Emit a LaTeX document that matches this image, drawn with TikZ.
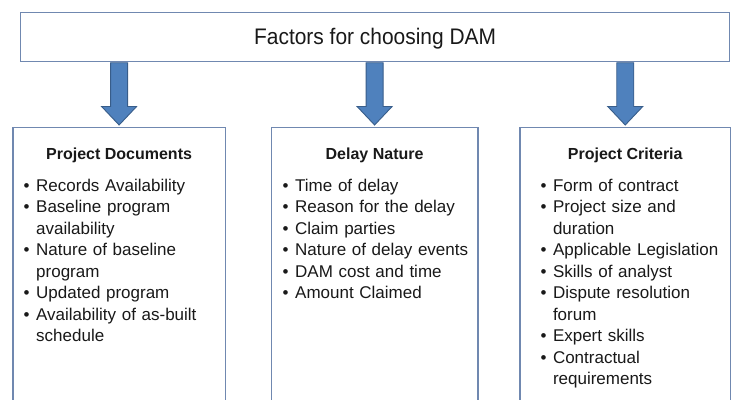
\documentclass[tikz,border=0pt]{standalone}
\usepackage{fontspec}
\setmainfont{Liberation Sans}
\newfontfamily\titlefont[FakeStretch=0.93]{Liberation Sans}
\usetikzlibrary{calc}
\definecolor{boxline}{RGB}{112,136,176}
\definecolor{arrfill}{RGB}{79,129,189}
\definecolor{arrline}{RGB}{56,93,138}
\definecolor{txt}{RGB}{25,25,25}
\newcommand{\itm}{\makebox[12.5pt][l]{\textbullet}}
\newcommand{\cnt}{\hspace*{12.5pt}}
\newcommand{\fatarrow}[2]{%
  \path[fatarr] let \p1=(#1.south -| #2.north), \p2=(#2.north) in
    (\x1-8.5pt,\y1-0.5pt) -- (\x1+8.5pt,\y1-0.5pt) -- (\x1+8.5pt,\y2+20pt)
    -- (\x1+17.5pt,\y2+20pt) -- (\x1,\y2+1.5pt) -- (\x1-17.5pt,\y2+20pt)
    -- (\x1-8.5pt,\y2+20pt) -- cycle;}
\tikzset{
  boxnode/.style={draw=boxline, line width=1.2pt, fill=white, rectangle, inner sep=0pt},
  fatarr/.style={fill=arrfill, draw=arrline, line width=0.9pt, line join=miter},
  head/.style={font=\fontsize{16}{19}\selectfont\bfseries, text=txt, inner sep=0pt, anchor=base},
  items/.style={font=\fontsize{17}{21.5}\selectfont, text=txt, inner sep=0pt, anchor=base west, text width=200pt, align=left},
}
\begin{document}
\begin{tikzpicture}[x=1pt,y=-1pt]
\useasboundingbox (0,0) rectangle (735,399);
\fill[white] (0,0) rectangle (735,399);
\clip (0,0) rectangle (735,399);
% top box
\node[boxnode, anchor=north west, minimum width=709pt, minimum height=49pt] (top) at (20,12) {};
\node[font=\titlefont\fontsize{22.5}{26}\selectfont, text=txt, inner sep=0pt, anchor=base] (title) at (top.north |- 0,44) {Factors for choosing DAM};
% bottom boxes
\node[boxnode, anchor=north west, minimum width=212.4pt, minimum height=300pt] (pd) at (12.3,126.5) {};
\node[boxnode, anchor=north west, minimum width=206.6pt, minimum height=300pt] (dn) at (270.7,126.5) {};
\node[boxnode, anchor=north west, minimum width=210.7pt, minimum height=300pt] (pc) at (519.3,126.5) {};
% arrows
\fatarrow{top}{pd}
\fatarrow{top}{dn}
\fatarrow{top}{pc}
% headings
\node[head] (hpd) at (pd.north |- 0,159.5) {Project Documents};
\node[head] (hdn) at (dn.north |- 0,159.5) {Delay Nature};
\node[head] (hpc) at (pc.north |- 0,159.5) {Project Criteria};
% lists
\node[items] (lpd) at (23.5,191) {\itm Records Availability\\
\itm Baseline program\\
\cnt availability\\
\itm Nature of baseline\\
\cnt program\\
\itm Updated program\\
\itm Availability of as-built\\
\cnt schedule};
\node[items] (ldn) at (282.5,191) {\itm Time of delay\\
\itm Reason for the delay\\
\itm Claim parties\\
\itm Nature of delay events\\
\itm DAM cost and time\\
\itm Amount Claimed};
\node[items] (lpc) at (540.3,191) {\itm Form of contract\\
\itm Project size and\\
\cnt duration\\
\itm Applicable Legislation\\
\itm Skills of analyst\\
\itm Dispute resolution\\
\cnt forum\\
\itm Expert skills\\
\itm Contractual\\
\cnt requirements};
\end{tikzpicture}
\end{document}
